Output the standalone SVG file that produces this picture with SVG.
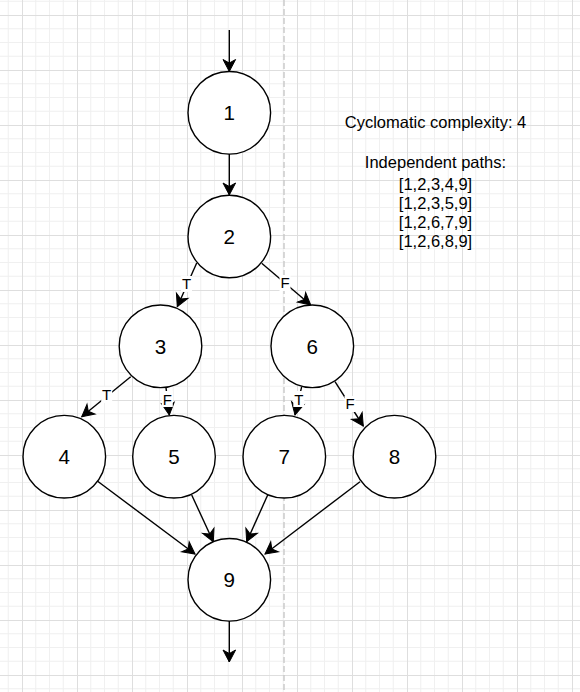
<svg xmlns="http://www.w3.org/2000/svg" width="580" height="692" viewBox="0 0 580 692">
<style>
.node circle{fill:#ffffff;stroke:#000000;stroke-width:1.4}
.node text{font-family:"Liberation Sans",Arial,sans-serif;font-size:20.6px;text-anchor:middle;fill:#000000}
.edge{stroke:#000000;stroke-width:1.4;fill:none;marker-end:url(#arr)}
.lbl text{font-family:"Liberation Sans",Arial,sans-serif;font-size:15px;text-anchor:middle;fill:#000000}
.lbl rect{fill:#ffffff}
.info{font-family:"Liberation Sans",Arial,sans-serif;font-size:16.5px;text-anchor:middle;fill:#000000}
</style>
<defs>
<pattern id="grid" x="22" y="15" width="55" height="55" patternUnits="userSpaceOnUse">
<rect x="0" y="0" width="55" height="55" fill="#ffffff"/>
<g stroke="#f0f0f0" stroke-width="1">
<line x1="13.75" y1="0" x2="13.75" y2="55"/>
<line x1="27.5" y1="0" x2="27.5" y2="55"/>
<line x1="41.25" y1="0" x2="41.25" y2="55"/>
<line x1="0" y1="13.75" x2="55" y2="13.75"/>
<line x1="0" y1="27.5" x2="55" y2="27.5"/>
<line x1="0" y1="41.25" x2="55" y2="41.25"/>
</g>
<g stroke="#dedede" stroke-width="1">
<line x1="0.5" y1="0" x2="0.5" y2="55"/>
<line x1="0" y1="0.5" x2="55" y2="0.5"/>
</g>
</pattern>
<marker id="arr" markerUnits="userSpaceOnUse" markerWidth="14" markerHeight="14" refX="12" refY="7" orient="auto" overflow="visible">
<path d="M12,7 L0,0.7 L3.5,7 L0,13.3 Z" fill="#000000" stroke="#000000" stroke-width="1"/>
</marker>
</defs>
<rect x="0" y="0" width="580" height="692" fill="url(#grid)"/>
<line x1="284" y1="0" x2="284" y2="692" stroke="#c8c8c8" stroke-width="1.4" stroke-dasharray="6 3"/>

<g id="connectors">
<line class="edge" x1="229.3" y1="30" x2="229.3" y2="71.5"/>
<line class="edge" x1="229.3" y1="154" x2="229.3" y2="195"/>
<line class="edge" x1="229.3" y1="621" x2="229.3" y2="662"/>
<line class="edge" x1="196.7" y1="263" x2="177.3" y2="306.7"/>
<line class="edge" x1="261.7" y1="263.3" x2="310.7" y2="305"/>
<line class="edge" x1="130.7" y1="376.7" x2="81.7" y2="416.7"/>
<line class="edge" x1="166" y1="387.7" x2="169.3" y2="415"/>
<line class="edge" x1="301.7" y1="386.7" x2="295" y2="415"/>
<line class="edge" x1="335" y1="381.7" x2="363.3" y2="426"/>
<line class="edge" x1="97.3" y1="481" x2="195" y2="554"/>
<line class="edge" x1="191.7" y1="495" x2="213.3" y2="541.7"/>
<line class="edge" x1="267.7" y1="495" x2="246.7" y2="541.7"/>
<line class="edge" x1="360" y1="481.7" x2="265" y2="554"/>
<g class="lbl">
<rect x="181" y="276" width="11" height="16"/><text x="186.7" y="289.3">T</text>
<rect x="279.5" y="275" width="11" height="16"/><text x="285" y="288.3">F</text>
<rect x="101.2" y="387" width="11" height="16"/><text x="106.7" y="400">T</text>
<rect x="161.8" y="391" width="11" height="16"/><text x="167.3" y="404.5">F</text>
<rect x="293.3" y="391" width="11" height="16"/><text x="298.8" y="404.5">T</text>
<rect x="344.5" y="396" width="11" height="16"/><text x="350" y="409.3">F</text>
</g>
</g>

<g id="n1" class="node"><circle cx="229.3" cy="112.8" r="41.3"/><text x="229.3" y="120.2">1</text></g>
<g id="n2" class="node"><circle cx="229.3" cy="236.5" r="41.3"/><text x="229.3" y="243.9">2</text></g>
<g id="n3" class="node"><circle cx="160.5" cy="346.3" r="41.3"/><text x="160.5" y="353.7">3</text></g>
<g id="n6" class="node"><circle cx="312.3" cy="346.3" r="41.3"/><text x="312.3" y="353.7">6</text></g>
<g id="n4" class="node"><circle cx="64.3" cy="456.7" r="41.3"/><text x="64.3" y="464.1">4</text></g>
<g id="n5" class="node"><circle cx="174" cy="456.7" r="41.3"/><text x="174" y="464.1">5</text></g>
<g id="n7" class="node"><circle cx="284.3" cy="456.7" r="41.3"/><text x="284.3" y="464.1">7</text></g>
<g id="n8" class="node"><circle cx="394.5" cy="456.7" r="41.3"/><text x="394.5" y="464.1">8</text></g>
<g id="n9" class="node"><circle cx="229.3" cy="579.8" r="41.3"/><text x="229.3" y="587.2">9</text></g>

<g id="info">
<text class="info" x="435.5" y="128.3">Cyclomatic complexity: 4</text>
<text class="info" x="435.5" y="168.3">Independent paths:</text>
<text class="info" x="435.5" y="190">[1,2,3,4,9]</text>
<text class="info" x="435.5" y="209">[1,2,3,5,9]</text>
<text class="info" x="435.5" y="228.3">[1,2,6,7,9]</text>
<text class="info" x="435.5" y="247.3">[1,2,6,8,9]</text>
</g>
</svg>
